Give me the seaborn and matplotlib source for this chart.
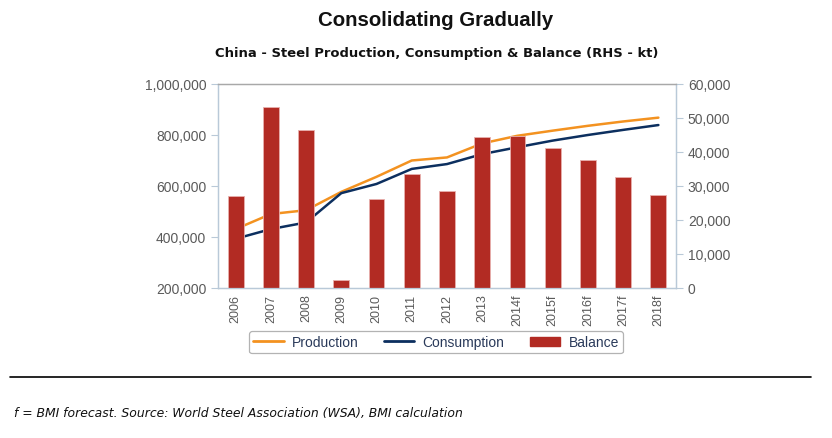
import matplotlib
matplotlib.use("Agg")
import matplotlib.pyplot as plt
import seaborn as sns
import pandas as pd
from matplotlib.ticker import FuncFormatter, FixedLocator
from matplotlib.lines import Line2D
from matplotlib.patches import Patch

years = ["2006", "2007", "2008", "2009", "2010", "2011", "2012", "2013",
         "2014f", "2015f", "2016f", "2017f", "2018f"]
production = [431000, 490000, 505000, 577000, 636000, 700000, 712000, 767000,
              797000, 817000, 836000, 853000, 868000]
consumption = [393000, 431000, 457000, 572000, 608000, 667000, 686000, 725000,
               752000, 778000, 800000, 820000, 839000]
balance = [27100, 53200, 46400, 2400, 26200, 33500, 28500, 44400,
           44600, 41200, 37600, 32600, 27300]

c_prod = "#f39220"
c_cons = "#0c2f5f"
c_bal = "#b22b23"
c_tick = "#5a5a5a"
c_spine = "#b9c9d8"

sns.set_theme(style="white")
plt.rcParams["font.family"] = ["Liberation Sans", "DejaVu Sans"]

df = pd.DataFrame({"year": years, "Production": production,
                   "Consumption": consumption, "Balance": balance})
df["pos"] = range(len(years))

fig = plt.figure(figsize=(8.32, 4.39), dpi=100)
ax = fig.add_axes([0.262, 0.3417, 0.5505, 0.4647])

sns.lineplot(data=df, x="pos", y="Production", ax=ax, color=c_prod, linewidth=1.8)
sns.lineplot(data=df, x="pos", y="Consumption", ax=ax, color=c_cons, linewidth=1.8)

ax2 = ax.twinx()
sns.barplot(data=df, x="year", y="Balance", ax=ax2, color=c_bal, width=0.45,
            saturation=1, edgecolor="#e8b0ad", linewidth=0.6)

for a in (ax, ax2):
    a.set_xlim(-0.5, len(years) - 0.5)
    a.set_xlabel("")
    a.set_ylabel("")

ax.set_ylim(200000, 1000000)
ax.set_yticks([200000, 400000, 600000, 800000, 1000000])
ax.yaxis.set_major_formatter(FuncFormatter(lambda v, p: f"{int(v):,}"))
ax2.set_ylim(0, 60000)
ax2.set_yticks(range(0, 60001, 10000))
ax2.yaxis.set_major_formatter(FuncFormatter(lambda v, p: f"{int(v):,}"))

ax2.set_xticks(range(len(years)))
ax2.set_xticklabels(years, rotation=90, fontsize=9, color=c_tick)
ax.set_xticks(range(len(years)))
ax.set_xticklabels(years, rotation=90, fontsize=9, color=c_tick)
ax.tick_params(axis="x", length=0, pad=4)
ax2.tick_params(axis="x", length=0)
ax.xaxis.set_minor_locator(FixedLocator([i - 0.5 for i in range(len(years) + 1)]))
ax.tick_params(axis="x", which="minor", length=5, color=c_spine, width=0.8)

ax.tick_params(axis="y", labelsize=10, labelcolor=c_tick, length=5, color=c_spine,
               width=0.8, left=True)
ax2.tick_params(axis="y", labelsize=10, labelcolor=c_tick, length=5, color=c_spine,
                width=0.8, right=True)

for a in (ax, ax2):
    for s in ["left", "right", "bottom"]:
        a.spines[s].set_color(c_spine)
        a.spines[s].set_linewidth(0.9)
    a.spines["top"].set_color("#a8a8a8")
    a.spines["top"].set_linewidth(0.9)

fig.text(0.523, 0.954, "Consolidating Gradually", ha="center", va="center",
         fontsize=14.7, fontweight="bold", color="#111111")
fig.text(0.5247, 0.879, "China - Steel Production, Consumption & Balance (RHS - kt)",
         ha="center", va="center", fontsize=9.45, fontweight="bold", color="#111111",
         family=["DejaVu Sans"])

handles = [Line2D([0], [0], color=c_prod, lw=2),
           Line2D([0], [0], color=c_cons, lw=2),
           Patch(facecolor=c_bal, edgecolor=c_bal)]
leg = fig.legend(handles, ["Production", "Consumption", "Balance"],
                 loc="center", bbox_to_anchor=(0.524, 0.218), ncol=3,
                 fontsize=10, frameon=True, fancybox=True, handlelength=2.2,
                 columnspacing=1.8, handletextpad=0.6, borderpad=0.3)
leg.get_frame().set_edgecolor("#a0a0a0")
leg.get_frame().set_linewidth(0.9)
for t in leg.get_texts():
    t.set_color("#2a3a5a")

fig.add_artist(Line2D([0.012, 0.975], [0.139, 0.139], transform=fig.transFigure,
                      color="black", linewidth=1.2))
fig.text(0.017, 0.057, "f = BMI forecast. Source: World Steel Association (WSA), BMI calculation",
         ha="left", va="center", fontsize=8.9, fontstyle="italic", color="#111111",
         family=["DejaVu Sans"])

fig.savefig("out.png", dpi=100)
